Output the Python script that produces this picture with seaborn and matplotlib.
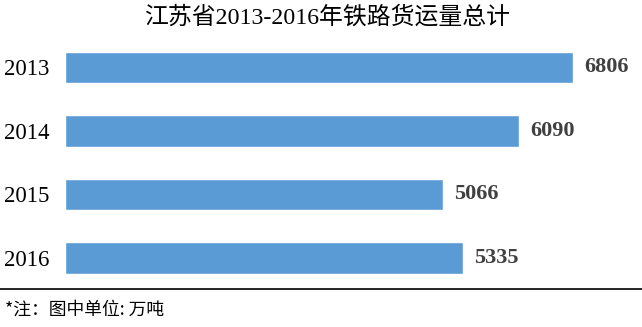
import matplotlib
matplotlib.use("Agg")
import matplotlib.pyplot as plt
import seaborn as sns
import pandas as pd
from matplotlib.lines import Line2D

years = ["2013", "2014", "2015", "2016"]
values = [6806, 6090, 5066, 5335]
title = "江苏省2013-2016年铁路货运量总计"
note = "*注：图中单位: 万吨"

sns.set_theme(style="white")
plt.rcParams['font.family'] = ['Liberation Serif', 'Noto Sans CJK SC', 'DejaVu Sans']

df = pd.DataFrame({"year": years, "value": values})

fig = plt.figure(figsize=(6.42, 3.27), dpi=100)
ax = fig.add_axes([65/642, 0.1139, 575/642, 0.7768])
sns.barplot(data=df, y="year", x="value", orient="h", color="#5B9BD5",
            saturation=1, width=0.49, ax=ax)
ax.set_xlim(0, 7708)
ax.set_ylim(3.5, -0.5)
ax.set_xlabel("")
ax.set_ylabel("")
ax.set_xticks([])
for s in ax.spines.values():
    s.set_visible(False)
ax.tick_params(axis="y", length=0, pad=11, labelsize=16.5, labelcolor="black")
for lbl in ax.get_yticklabels():
    lbl.set_fontfamily("Liberation Serif")

for i, v in enumerate(values):
    ax.text(v + 150, i, f"{v}", va="center", ha="left", fontsize=16,
            fontweight="bold", color="#404040", family="Liberation Serif")

fig.text(327/642, 1 - 17.5/327, title, ha="center", va="center", fontsize=17.2,
         color="black", family=['Liberation Serif', 'Noto Sans CJK SC'])

fig.add_artist(Line2D([0, 1], [1 - 288.5/327, 1 - 288.5/327], transform=fig.transFigure,
                      color="black", lw=1.2))
fig.text(5/642, 1 - 310/327, note, ha="left", va="center", fontsize=12.8,
         color="black", family=['Noto Sans CJK SC', 'DejaVu Sans'])

fig.savefig("out.png", dpi=100)
